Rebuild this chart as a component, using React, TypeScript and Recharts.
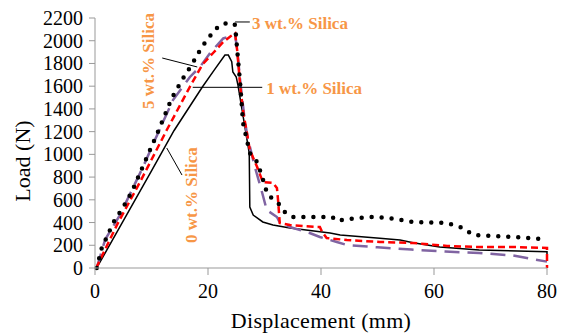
import { LineChart, Line, XAxis, YAxis, ReferenceLine, ReferenceDot, Label } from "recharts";

const FONT = "Liberation Serif, Times New Roman, serif";
const NOTE_COLOR = "#f79646";

const X_TICKS = [0, 20, 40, 60, 80];
const Y_TICKS = [0, 200, 400, 600, 800, 1000, 1200, 1400, 1600, 1800, 2000, 2200];

// 0 wt.% Silica (solid black)
const disp0 = [0.3, 5, 10, 14, 19, 21, 23, 23.6, 24.2, 24.4, 25, 25.3, 26, 26.9, 27.3, 27.4, 28, 29.7, 31.5, 34.5, 41.6, 43.4, 50.4, 54, 56.3, 61, 68, 80, 80];
const load0 = [0, 415, 855, 1210, 1593, 1735, 1874, 1874, 1816, 1725, 1680, 1610, 1400, 1130, 1010, 537, 466, 405, 378, 352, 308, 290, 261, 246, 223, 185, 158, 144, 80];

// 1 wt.% Silica (red dashed)
const disp1 = [0.2, 4, 8, 12.7, 16.8, 19, 20.9, 22.7, 24, 24.8, 25.2, 25.7, 26.3, 26.9, 27.4, 28.7, 29.7, 31.5, 32.2, 32.4, 32.7, 34.5, 39.3, 39.8, 40.2, 41, 44.6, 50.4, 56.3, 62.3, 68, 74, 80, 80];
const load1 = [0, 390, 760, 1214, 1595, 1790, 1892, 1989, 2040, 2065, 1900, 1600, 1350, 1188, 1038, 889, 757, 748, 704, 598, 396, 378, 361, 361, 317, 264, 246, 229, 220, 194, 185, 185, 176, 0];

// 3 wt.% Silica (round dots)
const disp3 = [0.3, 1.2, 2.1, 3.2, 5, 6.5, 11.2, 13.6, 15.4, 17.3, 18.9, 20.9, 22.1, 23.5, 24.4, 24.8, 25.2, 25.7, 26.2, 27.4, 28.7, 29.6, 30.1, 30.6, 32.4, 33.6, 35, 42, 42.8, 44.6, 49.2, 52, 56.3, 62.3, 65.1, 66.9, 74, 78.8, 80];
const load3 = [0, 176, 273, 396, 537, 669, 1205, 1496, 1654, 1804, 1945, 2077, 2138, 2156, 2156, 2138, 1900, 1620, 1276, 1012, 933, 801, 713, 642, 572, 493, 449, 449, 414, 431, 449, 440, 405, 396, 352, 290, 273, 255, 229];

// 5 wt.% Silica (purple long dash)
const disp5 = [0.3, 1.8, 4.4, 8.5, 10.6, 13.8, 16.8, 18.6, 20.5, 22.7, 24.2, 24.8, 25.3, 25.8, 26.5, 27, 28.3, 29.6, 30.4, 32.2, 32.7, 34.5, 38, 39.8, 42.8, 44.6, 50, 56, 62, 68, 74, 80];
const load5 = [0, 250, 466, 889, 1126, 1478, 1681, 1771, 1900, 2020, 2045, 2060, 1850, 1600, 1300, 1150, 889, 660, 510, 449, 400, 361, 308, 273, 229, 202, 182, 162, 145, 132, 110, 56];

const toPoints = (xs: number[], ys: number[]) => xs.map((x, i) => ({ x, y: ys[i] }));

type Note = {
  text: string;
  x: number;
  y: number;
  vertical: boolean;
  leader: [number, number][];
};

const NOTES: Note[] = [
  { text: "3 wt.% Silica", x: 27.8, y: 2156, vertical: false, leader: [[24.8, 2165], [27.4, 2165]] },
  { text: "1 wt.% Silica", x: 30.3, y: 1584, vertical: false, leader: [[17.3, 1590], [29.6, 1590]] },
  { text: "5 wt.% Silica", x: 9.4, y: 1822, vertical: true, leader: [[11.9, 1848], [18.1, 1769]] },
  { text: "0 wt.% Silica", x: 17.0, y: 642, vertical: true, leader: [[12.7, 1056], [15.4, 818]] },
];

const noteLabel = (note: Note) => (props: any) => {
  const vb = props.viewBox || {};
  const cx = (vb.x ?? 0) + (vb.width ?? 0) / 2;
  const cy = (vb.y ?? 0) + (vb.height ?? 0) / 2;
  return (
    <text
      x={cx}
      y={cy}
      textAnchor={note.vertical ? "middle" : "start"}
      dominantBaseline="central"
      transform={note.vertical ? `rotate(-90 ${cx} ${cy})` : undefined}
      fill={NOTE_COLOR}
      fontFamily={FONT}
      fontWeight="bold"
      fontSize={17}
    >
      {note.text}
    </text>
  );
};

const XTick = (props: any) => {
  const { x, y, payload } = props;
  return (
    <text x={x} y={y + 2} textAnchor="middle" dominantBaseline="hanging" fill="#000" fontFamily={FONT} fontSize={20}>
      {payload.value}
    </text>
  );
};

const YTick = (props: any) => {
  const { x, y, payload } = props;
  return (
    <text x={x} y={y} textAnchor="end" dominantBaseline="central" fill="#000" fontFamily={FONT} fontSize={20}>
      {payload.value}
    </text>
  );
};

export default function App() {
  return (
    <div style={{ position: "absolute", left: 0, top: 0, width: 564, height: 335, background: "#fff", fontFamily: FONT }}>
      <LineChart width={564} height={335} margin={{ top: 18, right: 17, bottom: 0, left: 0 }}>
        <XAxis
          type="number"
          dataKey="x"
          domain={[0, 80]}
          ticks={X_TICKS}
          interval={0}
          height={67}
          tickSize={7}
          tickMargin={7}
          stroke="#999"
          tick={XTick}
          allowDuplicatedCategory={false}
        >
          <Label
            value="Displacement (mm)"
            position="insideBottom"
            offset={7}
            style={{ fontFamily: FONT, fontSize: 22, fill: "#000", letterSpacing: 0.3 }}
          />
        </XAxis>
        <YAxis
          type="number"
          dataKey="y"
          domain={[0, 2200]}
          ticks={Y_TICKS}
          interval={0}
          width={95}
          tickSize={6}
          tickMargin={6}
          stroke="#999"
          tick={YTick}
        >
          <Label
            content={(p: any) => {
              const vb = p.viewBox || {};
              const x = (vb.x ?? 0) + 22;
              const y = (vb.y ?? 0) + (vb.height ?? 0) / 2 + 18;
              return (
                <text
                  x={x}
                  y={y}
                  textAnchor="middle"
                  dominantBaseline="central"
                  transform={`rotate(-90 ${x} ${y})`}
                  fill="#000"
                  fontFamily={FONT}
                  fontSize={22}
                >
                  Load (N)
                </text>
              );
            }}
          />
        </YAxis>

        <Line
          data={toPoints(disp0, load0)}
          dataKey="y"
          type="linear"
          stroke="#000"
          strokeWidth={1.5}
          dot={false}
          isAnimationActive={false}
        />
        <Line
          data={toPoints(disp5, load5)}
          dataKey="y"
          type="linear"
          stroke="#8064a2"
          strokeWidth={2.5}
          strokeDasharray="15 8"
          dot={false}
          isAnimationActive={false}
        />
        <Line
          data={toPoints(disp1, load1)}
          dataKey="y"
          type="linear"
          stroke="#ff0000"
          strokeWidth={2.5}
          strokeDasharray="7 4"
          dot={false}
          isAnimationActive={false}
        />
        <Line
          data={toPoints(disp3, load3)}
          dataKey="y"
          type="linear"
          stroke="#000"
          strokeWidth={4.5}
          strokeDasharray="0 10"
          strokeLinecap="round"
          dot={false}
          isAnimationActive={false}
        />

        {NOTES.map((n) => (
          <ReferenceLine
            key={`l-${n.text}`}
            segment={[
              { x: n.leader[0][0], y: n.leader[0][1] },
              { x: n.leader[1][0], y: n.leader[1][1] },
            ]}
            stroke="#000"
            strokeWidth={1}
          />
        ))}
        {NOTES.map((n) => (
          <ReferenceDot
            key={`t-${n.text}`}
            x={n.x}
            y={n.y}
            r={0}
            fill="none"
            stroke="none"
            label={noteLabel(n)}
          />
        ))}
      </LineChart>
    </div>
  );
}
